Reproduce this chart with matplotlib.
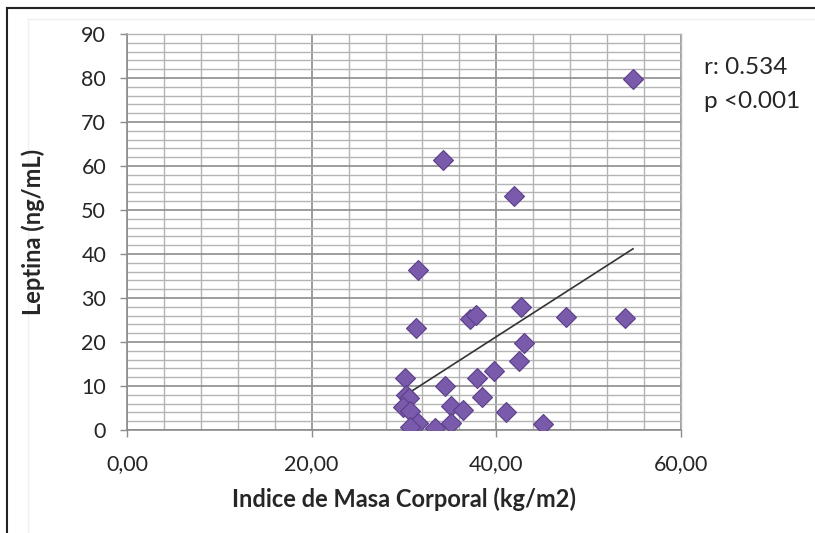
import numpy as np
import matplotlib
matplotlib.use("Agg")
import matplotlib.pyplot as plt
from matplotlib.lines import Line2D
from matplotlib.ticker import MultipleLocator, FuncFormatter

# Body-mass index (kg/m2) and leptin (ng/mL) per patient
imc = [54.8, 34.2, 41.9, 31.5, 37.2, 37.8, 42.7, 47.5, 53.9, 31.3,
       43.0, 42.5, 39.8, 30.1, 37.9, 34.4, 30.2, 30.5, 38.5, 29.9,
       30.7, 35.1, 36.4, 41.1, 31.5, 30.6, 33.4, 35.1, 45.0]
leptina = [79.8, 61.4, 53.2, 36.4, 25.3, 26.2, 28.0, 25.7, 25.4, 23.2,
           19.8, 15.7, 13.4, 11.8, 11.8, 10.0, 7.9, 7.2, 7.5, 5.2,
           4.3, 5.4, 4.5, 4.1, 1.6, 0.6, 0.4, 1.6, 1.3]

x_ticks = [0, 20, 40, 60]
y_ticks = [0, 10, 20, 30, 40, 50, 60, 70, 80, 90]
stats_text = ["r: 0.534", "p <0.001"]

plt.rcParams["font.family"] = ["Lato", "DejaVu Sans"]

fig = plt.figure(figsize=(8.15, 5.33), dpi=100)
ax = fig.add_axes([0.1558, 0.1932, 0.6798, 0.7430])

# minor and major grid
ax.set_xlim(0, 60)
ax.set_ylim(0, 90)
ax.xaxis.set_major_locator(MultipleLocator(20))
ax.xaxis.set_minor_locator(MultipleLocator(4))
ax.yaxis.set_major_locator(MultipleLocator(10))
ax.yaxis.set_minor_locator(MultipleLocator(2))
ax.grid(which="minor", color="#b4b4b4", linewidth=1.0)
ax.grid(which="major", color="#8c8c8c", linewidth=1.2)
ax.set_axisbelow(True)

ax.set_xticks(x_ticks)
ax.set_yticks(y_ticks)
ax.xaxis.set_major_formatter(FuncFormatter(lambda v, p: f"{v:.2f}".replace(".", ",")))
ax.tick_params(axis="both", which="major", direction="out", length=5,
               width=1.0, color="#8c8c8c", labelsize=15.5, labelcolor="#262626")
ax.tick_params(axis="both", which="minor", length=0)
ax.tick_params(axis="x", pad=12)
ax.tick_params(axis="y", pad=10)

for side in ["left", "bottom"]:
    ax.spines[side].set_color("#8c8c8c")
    ax.spines[side].set_linewidth(1.2)
for side in ["top", "right"]:
    ax.spines[side].set_color("#b4b4b4")
    ax.spines[side].set_linewidth(1.0)

# linear trend
xs = np.array(imc)
ys = np.array(leptina)
slope, intercept = np.polyfit(xs, ys, 1)
xl = np.array([xs.min(), xs.max()])
ax.plot(xl, slope * xl + intercept, color="#333333", linewidth=1.2, zorder=3)

ax.plot(imc, leptina, linestyle="none", marker="D", markersize=10,
        markerfacecolor="#7a5aaa", markeredgecolor="#5b3f8c",
        markeredgewidth=0.8, zorder=4)

ax.set_xlabel("Indice de Masa Corporal (kg/m2)", fontsize=17, fontweight="bold",
              color="#262626", labelpad=10)
ax.set_ylabel("Leptina (ng/mL)", fontsize=17, fontweight="bold",
              color="#262626", labelpad=26)

fig.text(0.864, 0.874, stats_text[0], fontsize=17.5, color="#262626", va="center")
fig.text(0.864, 0.810, stats_text[1], fontsize=17.5, color="#262626", va="center")

# outer frame (left and top) and faint chart-area border behind everything
fig.add_artist(Line2D([0.009, 0.009], [0.0, 0.985], color="#222222", linewidth=1.5))
fig.add_artist(Line2D([0.009, 1.0], [0.985, 0.985], color="#222222", linewidth=1.5))
fig.add_artist(Line2D([0.034, 0.034], [0.0, 0.964], color="#f0f0f0", linewidth=1.0, zorder=-1))
fig.add_artist(Line2D([0.034, 1.0], [0.964, 0.964], color="#f0f0f0", linewidth=1.0, zorder=-1))

fig.savefig("out.png", dpi=100)
